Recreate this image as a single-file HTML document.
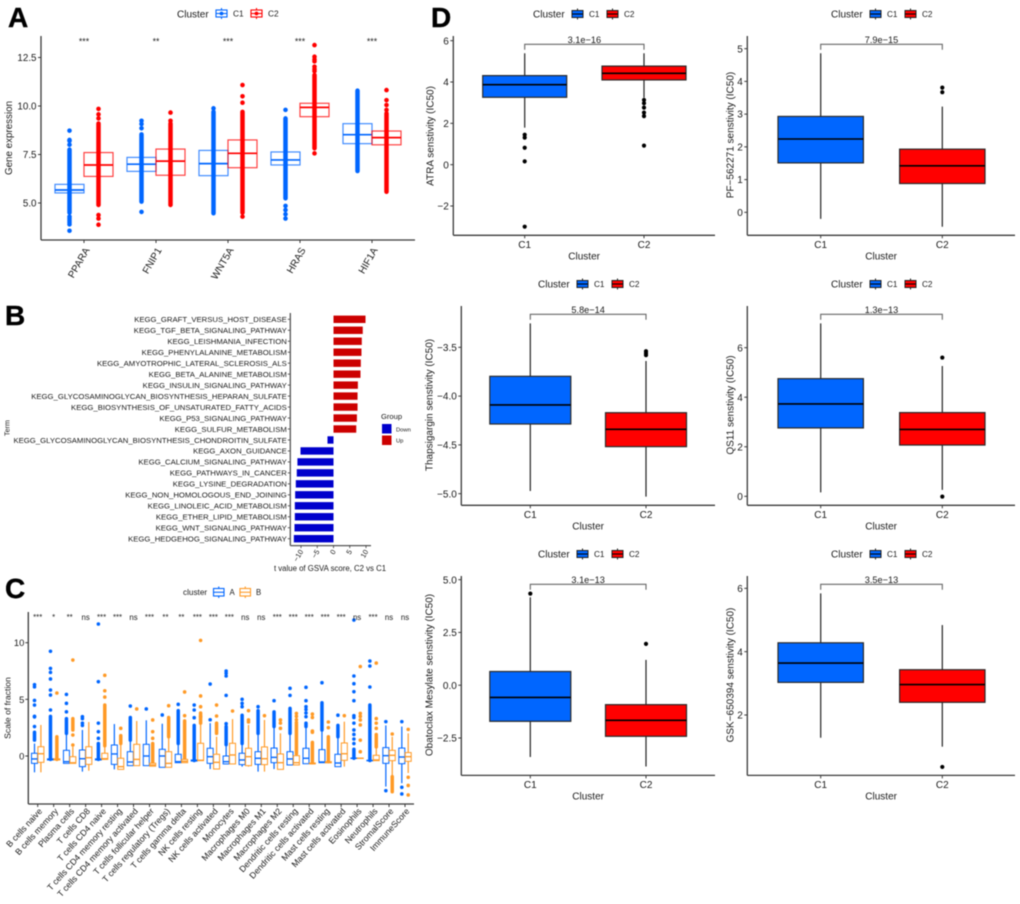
<!DOCTYPE html>
<html lang="en">
<head>
<meta charset="utf-8">
<title>Cluster expression, GSVA, immune fraction and drug sensitivity panels</title>
<style>
html,body{margin:0;padding:0;background:#fff;width:1020px;height:904px;overflow:hidden}
#figure{position:absolute;left:0;top:0;width:1020px;height:904px;filter:blur(0.45px)}
svg text{font-family:"Liberation Sans",Arial,sans-serif;fill:#1a1a1a}
.letter{font-family:"Liberation Sans",Arial,sans-serif;font-weight:bold;font-size:28px;fill:#000;stroke:#000;stroke-width:.4px}
</style>
</head>
<body>
<svg id="figure" xmlns="http://www.w3.org/2000/svg" width="1020" height="904" viewBox="0 0 1020 904">
  <rect width="1020" height="904" fill="#fff"/>
  <text class="letter" x="8" y="27">A</text>
  <text class="letter" x="5" y="325">B</text>
  <text class="letter" x="5" y="598">C</text>
  <text class="letter" x="431" y="27">D</text>
  <g id="panel-a"></g>
  <g id="panel-b"></g>
  <g id="panel-c"></g>
  <g id="panel-d"></g>
</svg>
<script>
/* ---------- Panel A data: box = [q1, median, q3] ---------- */
const aGenes = ["PPARA","FNIP1","WNT5A","HRAS","HIF1A"];
const aSignif = ["***","**","***","***","***"];
const aTicks = [5,7.5,10,12.5];
const aC1Box = [[5.52,5.67,5.96],[6.63,7.0,7.35],[6.41,7.03,7.71],[6.96,7.22,7.63],[8.06,8.52,9.09]];
const aC2Box = [[6.37,6.96,7.6],[6.43,7.16,7.78],[6.82,7.56,8.25],[9.45,9.93,10.14],[8.0,8.37,8.71]];
const aC1Bands = [[4.5,7.75],[5.07,8.54],[4.47,9.7],[5.24,9.36],[6.65,10.79]];
const aC2Bands = [[4.9,9.1],[4.9,9.1],[4.5,9.7],[7.82,11.6],[5.58,9.62]];
const aC1Points = [[3.57,3.9,4.0,4.1,4.2,4.3,8.0,8.2,8.25,8.73],[4.54,8.85,9.07,9.24],[9.88],[4.2,4.42,4.64,4.85,9.8],[]];
const aC2Points = [[3.88,4.2,4.38,9.36,9.57,9.85],[9.24,9.66],[4.3,10.17,10.5,11.08],[7.56,11.8,11.9,12.03,12.3,12.4,12.54,13.14],[9.8,10.05,10.3,10.82]];

/* ---------- Panel B data ---------- */
const bTerms = ["KEGG_GRAFT_VERSUS_HOST_DISEASE","KEGG_TGF_BETA_SIGNALING_PATHWAY","KEGG_LEISHMANIA_INFECTION","KEGG_PHENYLALANINE_METABOLISM","KEGG_AMYOTROPHIC_LATERAL_SCLEROSIS_ALS","KEGG_BETA_ALANINE_METABOLISM","KEGG_INSULIN_SIGNALING_PATHWAY","KEGG_GLYCOSAMINOGLYCAN_BIOSYNTHESIS_HEPARAN_SULFATE","KEGG_BIOSYNTHESIS_OF_UNSATURATED_FATTY_ACIDS","KEGG_P53_SIGNALING_PATHWAY","KEGG_SULFUR_METABOLISM","KEGG_GLYCOSAMINOGLYCAN_BIOSYNTHESIS_CHONDROITIN_SULFATE","KEGG_AXON_GUIDANCE","KEGG_CALCIUM_SIGNALING_PATHWAY","KEGG_PATHWAYS_IN_CANCER","KEGG_LYSINE_DEGRADATION","KEGG_NON_HOMOLOGOUS_END_JOINING","KEGG_LINOLEIC_ACID_METABOLISM","KEGG_ETHER_LIPID_METABOLISM","KEGG_WNT_SIGNALING_PATHWAY","KEGG_HEDGEHOG_SIGNALING_PATHWAY"];
const bValues = [9.85,9.0,8.7,8.6,8.4,8.3,7.5,7.4,7.4,7.2,7.0,-1.85,-10.15,-11.1,-11.3,-11.6,-11.8,-11.9,-11.9,-12.0,-12.2];
const bTicks = [-10,-5,0,5,10];

/* ---------- Panel C data: box = [q1, median, q3, whiskerLow, whiskerHigh] ---------- */
const cCells = ["B cells naive","B cells memory","Plasma cells","T cells CD8","T cells CD4 naive","T cells CD4 memory resting","T cells CD4 memory activated","T cells follicular helper","T cells regulatory (Tregs)","T cells gamma delta","NK cells resting","NK cells activated","Monocytes","Macrophages M0","Macrophages M1","Macrophages M2","Dendritic cells resting","Dendritic cells activated","Mast cells resting","Mast cells activated","Eosinophils","Neutrophils","StromalScore","ImmuneScore"];
const cSignif = ["***","*","**","ns","***","***","ns","***","**","**","***","***","***","ns","ns","***","***","***","***","***","ns","***","ns","ns"];
const cTicks = [0,5,10];
const cABox = [[-.65,-.26,.24,-1.44,1.1],[-.35,-.3,-.25,-.35,0],[-.65,-.5,.5,-.65,2],[-.94,-.24,.53,-1.38,2.3],[-.35,-.3,-.25,-.35,0],[-.74,.18,.97,-1.18,2.82],[-.85,-.53,.38,-.85,1.4],[-.85,0,1.03,-.85,3.15],[-1,0,.59,-1,2.85],[-.59,-.5,.15,-.59,1.1],[-.45,-.4,-.35,-.45,0],[-.65,-.06,.68,-1.15,2.9],[-.7,-.5,0,-.7,1],[-.76,-.35,.24,-.94,1.1],[-.74,-.2,.38,-1.38,2],[-.59,-.12,.7,-1.15,2.6],[-.79,-.26,.38,-.79,2],[-.68,-.2,.68,-.68,2.6],[-.59,-.53,.56,-.59,2.3],[-.94,-.62,.15,-.94,1.7],[-.22,-.2,-.18,-.22,0],[-.42,-.4,-.38,-.42,0],[-.65,.03,.74,-2.7,2.7],[-.68,-.09,.7,-2.4,2.6]];
const cBBox = [[-.56,.2,.82,-1.44,2.74],[-.35,-.3,-.25,-.35,0],[-.65,-.6,-.06,-.65,.82],[-.74,-.15,.82,-1.3,3.0],[-.3,-.24,.24,-.3,.9],[-1.18,-.94,-.2,-1.18,1.1],[-.85,-.3,1.03,-.85,3.09],[-.9,-.8,-.64,-.9,-.6],[-1,-.65,.38,-1,1.7],[-.59,-.47,-.3,-.59,-.3],[-.41,-.38,1.12,-.41,2.9],[-1.15,-.56,.15,-1.15,1.7],[-.7,.09,1.12,-.7,3.26],[-.85,-.06,.68,-.94,2.74],[-.76,-.24,.8,-1.38,3.18],[-1.18,-.59,.18,-1.18,2],[-.79,-.59,.03,-.79,.2],[-.68,-.68,-.62,-.68,-.6],[-.6,-.55,-.5,-.6,-.5],[-.38,.2,1.15,-.94,3.03],[-.21,-.2,-.19,-.21,-.2],[-.41,-.35,.06,-.41,.8],[-.41,.06,.5,-1.68,1.7],[-.47,-.06,.3,-1.5,2]];
const cABands = [[1.4,2.1],[-.3,3.5],[2,3.3],[],[-.3,1],[],[1.4,3.4],[],[],[1.1,4],[-.4,2.7],[],[1,2.6],[1.1,3.6],[2,4],[2.6,3.9],[2,4.2],[2.6,2.9],[2.3,4.7],[1.7,2.7],[-.2,.6],[-.4,4.5],[],[]];
const cBBands = [[],[-.3,1.7],[2.3,3.3],[],[.9,4.5],[1.1,1.8],[],[-.6,1.1],[1.7,3.4],[-.3,3.1],[2.9,3.8],[2,2.9],[],[],[],[],[.2,2.8],[-.6,1.2],[-.5,1.7],[],[],[.8,1.9],[-3.15,-1.82],[]];
const cAPoints = [[2.6,3.45,3.5,4.5,4.9,6.1,6.3],[4.06,5.38,5.82,6.8,7.38,7.73,9.24],[3.9,4.65,5.44],[2.7,2.9,3.3,3.47],[1.1,1.56,2.15,2.9,6.56,11.65],[],[4.41],[4.15],[3.62],[4.56],[3.38,4.06,4.5],[3.2,6.35],[2.85,5.35,7.06,7.3,7.5],[4.35,4.65,5],[4.35],[4.88],[5.35,5.97],[3.47,3.8,4.1,4.35,4.88,6.06],[6.47],[3.6],[1.1,1.5,1.9,2.3,2.9,3.4,3.56,4.88,5.68,6.38,7.06,12],[6.09,7.94,8.38],[3.03,-3.06],[3.03,-2.76,-3.35]];
const cBPoints = [[],[5.56],[.97,1.85,8.47],[],[5.2,5.76,7.12],[2.44],[4.15],[1.56,2.15,3.18],[4.44],[3.56,5.65],[3.47,4.35,5.3,10.2],[3.53,4.5],[3.97],[3.0,3.18,4.0],[3.56],[2.44,2.9,3.18],[2.95,3.2,3.5,3.76],[2.1,2.2,3.4,3.7],[2.5,3],[3.56],[.38,1.4,2.74,3.18,3.5,3.76,7.9],[2.44,2.9,3.3,8.2],[1.94],[2.35,-1.88,-2.6,-3.44]];

/* ---------- Panel D data: box = [q1, median, q3, whiskerLow, whiskerHigh] ---------- */
const dDrugs = ["ATRA","PF\u2212562271","Thapsigargin","QS11","Obatoclax Mesylate","GSK\u2212650394"];
const dPvalues = ["3.1e\u221216","7.9e\u221215","5.8e\u221214","1.3e\u221213","3.1e\u221213","3.5e\u221213"];
const dTickValues = [[-2,0,2,4,6],[0,1,2,3,4,5],[-5,-4.5,-4,-3.5],[0,2,4,6],[-2.5,0,2.5,5],[2,4,6]];
const dTickLabels = [["\u22122","0","2","4","6"],["0","1","2","3","4","5"],["\u22125.0","\u22124.5","\u22124.0","\u22123.5"],["0","2","4","6"],["\u22122.5","0.0","2.5","5.0"],["2","4","6"]];
const dC1Box = [[3.26,3.87,4.31,1.79,5.39],[1.51,2.24,2.93,-.2,4.86],[-4.286,-4.09,-3.797,-4.973,-3.254],[2.76,3.73,4.75,.16,6.98],[-1.71,-.58,.65,-3.4,4.17],[3.03,3.64,4.28,1.28,5.84]];
const dC2Box = [[4.1,4.42,4.77,3.24,5.39],[.88,1.42,1.93,-.44,3.23],[-4.518,-4.34,-4.17,-5.03,-3.64],[2.07,2.7,3.38,.26,5.26],[-2.42,-1.66,-.92,-3.85,1.2],[2.4,2.96,3.43,1.0,4.84]];
const dC1Outliers = [[1.45,1.31,.82,.16,-3.0],[],[],[],[4.34],[]];
const dC2Outliers = [[3.13,2.97,2.76,2.52,2.35,.92],[3.81,3.67],[-3.54,-3.56,-3.58],[5.6,-.01],[1.96],[.36]];

/* ---------- Layout (pixel geometry, not data) ---------- */
const dLayouts = [
  {left:453.3,right:715,top:36,bottom:235.3,c1:524.7,c2:644,half:42,v0:6,p0:40.67,v1:-2,p1:206,lx:430,ly:136,legX:533,legY:14},
  {left:747.3,right:1015,top:36,bottom:235.3,c1:820.7,c2:942.3,half:42.7,v0:5,p0:48.67,v1:0,p1:212.33,lx:730,ly:135,legX:831,legY:14},
  {left:461.3,right:715,top:306,bottom:505.3,c1:530.3,c2:646,half:40.5,v0:-3.5,p0:347.33,v1:-5,p1:493.67,lx:429,ly:405,legX:538,legY:284},
  {left:747.3,right:1015,top:306,bottom:505.3,c1:820.7,c2:942.3,half:42.7,v0:6,p0:347.67,v1:0,p1:496.33,lx:730,ly:405,legX:831,legY:284},
  {left:461.3,right:715,top:576,bottom:775.4,c1:530.3,c2:646,half:40.5,v0:5,p0:579.67,v1:-2.5,p1:738,lx:429,ly:675,legX:538,legY:554},
  {left:747.3,right:1015,top:576,bottom:775.4,c1:820.7,c2:942.3,half:42.7,v0:6,p0:588.33,v1:2,p1:715,lx:730,ly:675,legX:831,legY:554}
];

const SVGNS = "http://www.w3.org/2000/svg";
const AXIS = "#3a3a3a";
const BLUE = "#0066ff", RED = "#ff0000", ORANGE = "#ff9a26";

function add(parent, tag, attrs, name){
  const el = document.createElementNS(SVGNS, tag);
  for (const k in attrs) el.setAttribute(k, attrs[k]);
  
  
  parent.appendChild(el);
  return el;
}
function line(p, x1, y1, x2, y2, stroke, w, name, extra){
  return add(p, 'line', Object.assign({x1, y1, x2, y2, stroke, 'stroke-width': w}, extra || {}), name);
}
function label(p, x, y, str, size, anchor, name, rotate){
  const attrs = {x, y, 'font-size': size, 'text-anchor': anchor || 'start'};
  if (rotate) attrs.transform = 'rotate(' + rotate + ' ' + x + ' ' + y + ')';
  const t = add(p, 'text', attrs, name);
  t.textContent = str;
  return t;
}
function linear(v0, p0, v1, p1){
  const k = (p1 - p0) / (v1 - v0);
  return v => p0 + (v - v0) * k;
}
function outlineKey(p, x, y, w, h, color, dot, name){
  const g = add(p, 'g', {}, name);
  line(g, x + w / 2, y - 2, x + w / 2, y + h + 2, color, 1.1, 'legend-key-whisker');
  add(g, 'rect', {x, y, width: w, height: h, fill: '#fff', stroke: color, 'stroke-width': 1.1}, 'legend-key-box');
  line(g, x, y + h / 2, x + w, y + h / 2, color, 1.1, 'legend-key-median');
  if (dot) add(g, 'circle', {cx: x + w / 2, cy: y + h / 2, r: 1.9, fill: color}, 'legend-key-dot');
}

/* ---------- Panel A ---------- */
(function(){
  const g = document.getElementById('panel-a');
  const L = 41, R = 415, T = 36, B = 240;
  const y = linear(5, 203, 12.5, 57.5);
  const x = i => 84 + 72 * i;
  const series = [
    {box: aC1Box, bands: aC1Bands, pts: aC1Points, color: BLUE, off: -14.5, id: 'c1'},
    {box: aC2Box, bands: aC2Bands, pts: aC2Points, color: RED, off: 14.5, id: 'c2'}
  ];
  series.forEach(s => {
    s.box.forEach((b, i) => {
      const cx = x(i) + s.off;
      const grp = add(g, 'g', {}, 'box-' + aGenes[i].toLowerCase() + '-' + s.id);
      add(grp, 'rect', {x: cx - 14.5, y: y(b[2]), width: 29, height: y(b[0]) - y(b[2]), fill: '#fff', 'fill-opacity': 0, stroke: s.color, 'stroke-width': 1.2, 'stroke-opacity': .75}, 'box-body');
      line(grp, cx, y(s.bands[i][0]), cx, y(s.bands[i][1]), s.color, 4.5, 'outlier-band', {'stroke-linecap': 'round'});
      s.pts[i].forEach(v => add(grp, 'circle', {cx, cy: y(v), r: 2.3, fill: s.color}, 'outlier-point'));
      line(grp, cx - 14.5, y(b[1]), cx + 14.5, y(b[1]), s.color, 1.7, 'box-median');
    });
  });
  line(g, L, T, L, B, AXIS, 1.3, 'y-axis-line');
  line(g, L, B, R, B, AXIS, 1.3, 'x-axis-line');
  aTicks.forEach(v => {
    line(g, L - 3, y(v), L, y(v), AXIS, 1, 'y-tick');
    label(g, L - 4.5, y(v) + 3.6, v.toFixed(1), 9.8, 'end', 'y-tick-label');
  });
  aGenes.forEach((n, i) => {
    line(g, x(i), B, x(i), B + 3, AXIS, 1, 'x-tick');
    label(g, x(i) + 6, 250, n, 10, 'end', 'x-tick-label', -60);
    label(g, x(i), 44.5, aSignif[i], 8.8, 'middle', 'significance-label');
  });
  label(g, 12, 138, 'Gene expression', 9.8, 'middle', 'y-axis-title', -90);
  label(g, 177, 17.5, 'Cluster', 10, 'start', 'legend-title');
  outlineKey(g, 216, 10, 11, 7, BLUE, true, 'legend-key-c1');
  label(g, 233, 16.5, 'C1', 8.3, 'start', 'legend-label-c1');
  outlineKey(g, 251, 10, 11, 7, RED, true, 'legend-key-c2');
  label(g, 268, 16.5, 'C2', 8.3, 'start', 'legend-label-c2');
})();

/* ---------- Panel B ---------- */
(function(){
  const g = document.getElementById('panel-b');
  const L = 290.3, T = 313, B = 545.6;
  const x = linear(0, 333.5, 10, 366);
  const yc = i => 319.3 + 10.97 * i;
  bValues.forEach((v, i) => {
    const x0 = Math.min(x(0), x(v)), w = Math.abs(x(v) - x(0));
    add(g, 'rect', {x: x0, y: yc(i) - 3.7, width: w, height: 7.4, fill: v >= 0 ? '#cc0000' : '#0000cc'}, 'bar-term');
    line(g, L - 2.5, yc(i), L, yc(i), AXIS, .8, 'y-tick');
    label(g, L - 3.5, yc(i) + 2.8, bTerms[i], 7.74, 'end', 'term-label');
  });
  line(g, L, T, L, B, '#555', 1.3, 'y-axis-line');
  line(g, L, B, 371, B, '#555', 1.3, 'x-axis-line');
  bTicks.forEach(v => {
    line(g, x(v), B, x(v), B + 2.5, AXIS, .8, 'x-tick');
    label(g, x(v) + 2.5, 551.5, String(v).replace('-', '\u2212'), 7.3, 'end', 'x-tick-label', -60);
  });
  label(g, 330, 571, 't value of GSVA score, C2 vs C1', 7.8, 'middle', 'x-axis-title');
  label(g, 9.5, 428, 'Term', 7.2, 'middle', 'y-axis-title', -90);
  label(g, 381, 419, 'Group', 7.6, 'start', 'legend-title');
  add(g, 'rect', {x: 382, y: 424, width: 9.5, height: 9.5, fill: '#0000cc'}, 'legend-key-down');
  label(g, 396, 431.5, 'Down', 5.8, 'start', 'legend-label-down');
  add(g, 'rect', {x: 382, y: 435.5, width: 9.5, height: 9.5, fill: '#cc0000'}, 'legend-key-up');
  label(g, 396, 442.5, 'Up', 5.8, 'start', 'legend-label-up');
})();

/* ---------- Panel C ---------- */
(function(){
  const g = document.getElementById('panel-c');
  const L = 28.3, R = 414, T = 612, B = 804;
  const y = linear(0, 756, 10, 642.7);
  const x = i => 37.7 + 15.97 * i;
  const series = [
    {box: cABox, bands: cABands, pts: cAPoints, color: BLUE, off: -3.2, id: 'a'},
    {box: cBBox, bands: cBBands, pts: cBPoints, color: ORANGE, off: 3.2, id: 'b'}
  ];
  series.forEach(s => {
    s.box.forEach((b, i) => {
      const cx = x(i) + s.off;
      const grp = add(g, 'g', {}, 'box-' + i + '-' + s.id);
      line(grp, cx, y(b[3]), cx, y(b[4]), s.color, 1.2, 'box-whisker');
      const band = s.bands[i];
      if (band.length) line(grp, cx, y(band[0]), cx, y(band[1]), s.color, 3.5, 'outlier-band', {'stroke-linecap': 'round'});
      s.pts[i].forEach(v => add(grp, 'circle', {cx, cy: y(v), r: 1.8, fill: s.color}, 'outlier-point'));
      add(grp, 'rect', {x: cx - 3, y: y(b[2]), width: 6, height: Math.max(y(b[0]) - y(b[2]), .3), fill: '#fff', stroke: s.color, 'stroke-width': 1}, 'box-body');
      line(grp, cx - 3, y(b[1]), cx + 3, y(b[1]), s.color, 1.4, 'box-median');
    });
  });
  line(g, L, T, L, B, AXIS, 1.3, 'y-axis-line');
  line(g, L, B, R, B, AXIS, 1.3, 'x-axis-line');
  cTicks.forEach(v => {
    line(g, L - 3, y(v), L, y(v), AXIS, 1, 'y-tick');
    label(g, L - 4, y(v) + 3.4, String(v), 9.4, 'end', 'y-tick-label');
  });
  cCells.forEach((n, i) => {
    line(g, x(i), B, x(i), B + 3, AXIS, 1, 'x-tick');
    label(g, x(i) + 5, 811.5, n, 8.7, 'end', 'cell-type-label', -48);
    label(g, x(i), 620, cSignif[i], 7.8, 'middle', 'significance-label');
  });
  label(g, 10.5, 708, 'Scale of fraction', 8.6, 'middle', 'y-axis-title', -90);
  label(g, 183, 595, 'cluster', 8.2, 'start', 'legend-title');
  outlineKey(g, 213.5, 588.5, 10.5, 7.5, BLUE, false, 'legend-key-a');
  label(g, 229.5, 595, 'A', 7.8, 'start', 'legend-label-a');
  outlineKey(g, 240, 588.5, 10.5, 7.5, ORANGE, false, 'legend-key-b');
  label(g, 256, 595, 'B', 7.8, 'start', 'legend-label-b');
})();

/* ---------- Panel D ---------- */
(function(){
  const root = document.getElementById('panel-d');
  dDrugs.forEach((drug, k) => {
    const a = dLayouts[k];
    const g = add(root, 'g', {}, 'drug-panel-' + k);
    const y = linear(a.v0, a.p0, a.v1, a.p1);
    const groups = [
      {box: dC1Box[k], out: dC1Outliers[k], cx: a.c1, fill: BLUE, label: 'C1'},
      {box: dC2Box[k], out: dC2Outliers[k], cx: a.c2, fill: RED, label: 'C2'}
    ];
    groups.forEach(s => {
      const b = s.box;
      line(g, s.cx, y(b[3]), s.cx, y(b[4]), '#222', 1.2, 'box-whisker');
      add(g, 'rect', {x: s.cx - a.half, y: y(b[2]), width: a.half * 2, height: y(b[0]) - y(b[2]), fill: s.fill, stroke: '#2a2a2a', 'stroke-width': 1.2}, 'box-body');
      line(g, s.cx - a.half, y(b[1]), s.cx + a.half, y(b[1]), '#000', 1.6, 'box-median');
      s.out.forEach(v => add(g, 'circle', {cx: s.cx, cy: y(v), r: 2.1, fill: '#000'}, 'outlier-point'));
      line(g, s.cx, a.bottom, s.cx, a.bottom + 3, AXIS, 1, 'x-tick');
      label(g, s.cx, a.bottom + 12.5, s.label, 10, 'middle', 'x-tick-label');
    });
    const by = a.top + 8.3;
    add(g, 'path', {d: 'M' + a.c1 + ' ' + (by + 5.5) + 'V' + by + 'H' + a.c2 + 'V' + (by + 5.5), fill: 'none', stroke: '#666', 'stroke-width': 1.1}, 'significance-bracket');
    label(g, (a.c1 + a.c2) / 2, by - 1.5, dPvalues[k], 9.2, 'middle', 'p-value-label');
    line(g, a.left, a.top, a.left, a.bottom, AXIS, 1.3, 'y-axis-line');
    line(g, a.left, a.bottom, a.right, a.bottom, AXIS, 1.3, 'x-axis-line');
    dTickValues[k].forEach((v, i) => {
      line(g, a.left - 3, y(v), a.left, y(v), AXIS, 1, 'y-tick');
      label(g, a.left - 4.5, y(v) + 3.6, dTickLabels[k][i], 10, 'end', 'y-tick-label');
    });
    label(g, (a.left + a.right) / 2, a.bottom + 24, 'Cluster', 10, 'middle', 'x-axis-title');
    label(g, a.lx + 3.5, a.ly, drug + ' senstivity (IC50)', 10, 'middle', 'y-axis-title', -90);
    label(g, a.legX, a.legY + 3.5, 'Cluster', 10, 'start', 'legend-title');
    [[BLUE, 'C1', 39, 56], [RED, 'C2', 74, 91]].forEach(e => {
      const kx = a.legX + e[2], ky = a.legY - 3.5;
      line(g, kx + 5.5, ky - 2, kx + 5.5, ky + 9, '#222', 1, 'legend-key-whisker');
      add(g, 'rect', {x: kx, y: ky, width: 11, height: 7, fill: e[0], stroke: '#222', 'stroke-width': 1}, 'legend-key-box');
      line(g, kx, ky + 3.5, kx + 11, ky + 3.5, '#000', 1, 'legend-key-median');
      label(g, a.legX + e[3], a.legY + 3, e[1], 8.2, 'start', 'legend-label');
    });
  });
})();
</script>
</body>
</html>
